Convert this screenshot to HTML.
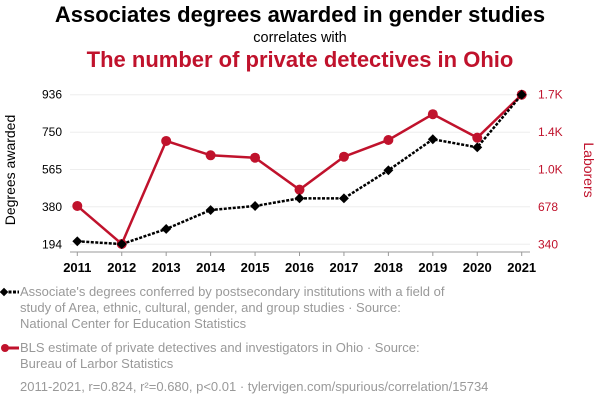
<!DOCTYPE html>
<html><head><meta charset="utf-8"><style>
body{margin:0;width:600px;height:408px;background:#fff;font-family:"Liberation Sans",sans-serif;overflow:hidden;position:relative}
.t{position:absolute;left:0;width:600px;text-align:center}
.leg{position:absolute;left:20px;color:#999;font-size:13px;line-height:16px}
</style></head><body>
<div class="t" style="top:2px;font-size:22px;font-weight:bold;color:#000">Associates degrees awarded in gender studies</div>
<div class="t" style="top:30px;font-size:14.5px;color:#000">correlates with</div>
<div class="t" style="top:47px;font-size:22px;font-weight:bold;color:#c0122c">The number of private detectives in Ohio</div>
<svg id="c" width="600" height="280" style="position:absolute;left:0;top:0"></svg>
<svg width="20" height="120" style="position:absolute;left:0;top:280px">
<line x1="4" y1="12" x2="19" y2="12" stroke="#000" stroke-width="3" stroke-dasharray="3,1.5"/>
<rect x="1" y="9" width="6" height="6" transform="rotate(45 4 12)" fill="#000"/>
<line x1="4" y1="68" x2="19" y2="68" stroke="#c0122c" stroke-width="3"/>
<circle cx="5" cy="68" r="4" fill="#c0122c"/>
</svg>
<div class="leg" style="top:284px">Associate's degrees conferred by postsecondary institutions with a field of<br>study of Area, ethnic, cultural, gender, and group studies · Source:<br>National Center for Education Statistics</div>
<div class="leg" style="top:340px">BLS estimate of private detectives and investigators in Ohio · Source:<br>Bureau of Larbor Statistics</div>
<div class="leg" style="top:379px">2011-2021, r=0.824, r²=0.680, p&lt;0.01 · tylervigen.com/spurious/correlation/15734</div>
<script>
const years=[2011,2012,2013,2014,2015,2016,2017,2018,2019,2020,2021];
const degrees=[209,195,270,364,384,422,422,561,715,675,936];
const detectives=[688,343,1278,1148,1126,836,1135,1287,1521,1308,1698];
const leftTicks=[194,380,565,750,936];
const rightTickVals=[340,678,1019,1359,1698];
const rightTickLabels=["340","678","1.0K","1.4K","1.7K"];
const NS="http://www.w3.org/2000/svg",svg=document.getElementById('c');
const x=v=>77.3+(v-2011)*(521.7-77.3)/10;
const yL=v=>244.3-(v-194)*(149.6/742);
const yR=v=>244.3-(v-340)*(149.6/1358);
function mk(t,a,p){const e=document.createElementNS(NS,t);for(const k in a)e.setAttribute(k,a[k]);(p||svg).appendChild(e);return e;}
leftTicks.forEach((v,i)=>{const g=mk('line',{x1:70,x2:530,y1:yL(v),y2:yL(v),stroke:'#eee','stroke-width':1});

const t=mk('text',{x:62,y:yL(v)+4,'text-anchor':'end','font-size':12,fill:'#000'});t.textContent=v;
});
rightTickVals.forEach((v,i)=>{const t=mk('text',{x:538,y:yR(v)+4,'font-size':12,fill:'#c0122c'});t.textContent=rightTickLabels[i];
});
const ax=mk('line',{x1:70,x2:530,y1:252,y2:252,stroke:'#999'});

years.forEach(v=>{mk('line',{x1:x(v),x2:x(v),y1:252,y2:256,stroke:'#999'});
const t=mk('text',{x:x(v),y:272,'text-anchor':'middle','font-size':13,'font-weight':'bold',fill:'#000'});t.textContent=v;
});
const yl=mk('text',{transform:'translate(15,170) rotate(-90)','text-anchor':'middle','font-size':14,fill:'#000'});yl.textContent='Degrees awarded';

const yr=mk('text',{transform:'translate(584,170) rotate(90)','text-anchor':'middle','font-size':14,fill:'#c0122c'});yr.textContent='Laborers';

const rl=mk('polyline',{points:years.map((v,i)=>x(v)+','+yR(detectives[i])).join(' '),fill:'none',stroke:'#c0122c','stroke-width':2.5});

years.forEach((v,i)=>{const c=mk('circle',{cx:x(v),cy:yR(detectives[i]),r:5,fill:'#c0122c'});
});
const bl=mk('polyline',{points:years.map((v,i)=>x(v)+','+yL(degrees[i])).join(' '),fill:'none',stroke:'#000','stroke-width':2.5,'stroke-dasharray':'3,1.5'});

years.forEach((v,i)=>{const cx=x(v),cy=yL(degrees[i]);const r=mk('rect',{x:cx-3.5,y:cy-3.5,width:7,height:7,fill:'#000',transform:`rotate(45 ${cx} ${cy})`});
});
</script>
</body></html>
